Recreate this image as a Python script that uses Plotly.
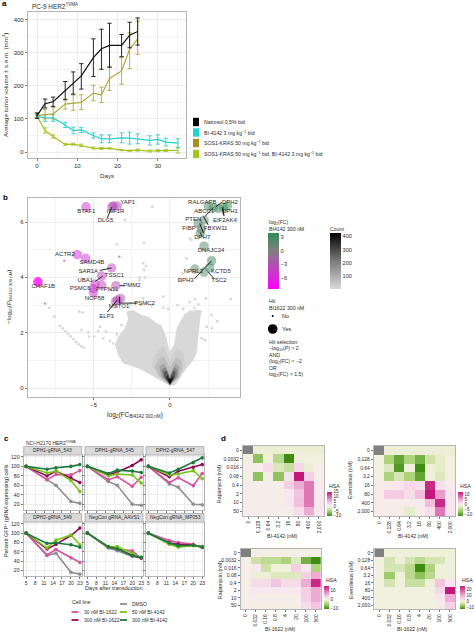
import plotly.graph_objects as go

W, H = 474, 632
FONT = "Liberation Sans"
INK = "#2b2b2b"
GRID = "#ececec"
FRAME = "#b4b4b4"

# ---------- panel a ----------
a_days_long = [0, 2, 4, 7, 9, 11, 14, 16, 18, 21, 23, 25, 28, 30, 32, 35]
a_days_short = [0, 2, 4, 7, 9, 11, 14, 16, 18, 21, 23, 25]
a_natrosol = [110, 146, 152, 185, 208, 230, 285, 312, 322, 322, 353, 364]
a_natrosol_up = [8, 14, 14, 28, 34, 37, 57, 59, 67, 33, 39, 41]
a_natrosol_dn = [8, 13, 14, 27, 33, 40, 57, 62, 66, 34, 38, 41]
a_sos1 = [110, 113, 115, 145, 148, 150, 178, 172, 222, 245, 310, 342]
a_sos1_up = [8, 15, 20, 15, 24, 23, 24, 24, 36, 40, 50, 53]
a_sos1_dn = [8, 13, 15, 15, 22, 22, 23, 22, 36, 40, 58, 47]
a_bi4142 = [108, 103, 103, 82, 65, 67, 50, 40, 40, 43, 42, 40, 35, 38, 30, 27]
a_bi4142_err = [5, 10, 10, 8, 10, 8, 8, 12, 12, 15, 18, 15, 14, 14, 12, 13]
a_combo = [108, 65, 47, 23, 24, 20, 12, 11, 11, 6, 4, 6, 3, 4, 5, 5]
a_combo_err = [4, 8, 5, 3, 3, 4, 3, 3, 2, 2, 2, 3, 3, 3, 3, 8]
a_legend = ["Natrosol 0.5% bid", "BI-4142 3 mg kg<sup>−1</sup> bid", "SOS1-KRAS 50 mg kg<sup>−1</sup> bid",
            "SOS1-KRAS 50 mg kg<sup>−1</sup> bid, BI-4142 3 mg kg<sup>−1</sup> bid"]
a_colors = ["#000000", "#22d3d3", "#a78f1e", "#a3c41c"]

# ---------- panel b ----------
hit_genes = ["BTAF1", "IGF1R", "YAP1", "DLG5", "ACTR2", "SAMD4B", "SAR1A", "TSSC1", "CHAF1B", "UBA1", "PMM2",
             "PTPN11", "PSMC6", "NOP58", "PSMC2", "MSTO1", "ELP3", "RALGAPB", "DPH2", "ABCC1", "DPH1", "EIF2AK4",
             "PTEN", "FIBP", "FBXW11", "DPH7", "DNAJC24", "KCTD5", "NPRL2", "TSC2", "DPH3"]
hit_fc = [-5.5, -3.7, -3.45, -3.8, -6.07, -5.52, -3.82, -4.48, -8.65, -4.9, -3.54,
          -4.48, -5.02, -5.02, -3.23, -3.56, -3.45, 2.51, 3.76, 2.84, 3.5, 3.17,
          2.23, 1.85, 2.05, 2.0, 2.23, 2.6, 1.64, 2.23, 2.73]
hit_p = [6.55, 6.58, 6.58, 6.55, 4.82, 4.69, 4.34, 4.05, 3.84, 3.76, 3.7,
         3.72, 3.6, 3.45, 3.24, 3.12, 3.18, 6.58, 6.58, 6.53, 6.53, 6.49,
         6.07, 5.95, 5.75, 5.6, 5.13, 4.35, 4.3, 4.19, 4.6]
label_x = [-5.48, -3.56, -2.77, -4.22, -6.88, -5.11, -5.35, -3.63, -8.30, -5.55, -2.49,
           -4.11, -5.88, -4.94, -1.66, -3.34, -4.15, 2.12, 3.93, 2.25, 3.93, 3.60,
           1.53, 1.25, 2.99, 2.12, 2.69, 3.34, 1.53, 3.21, 1.03]
label_y = [6.39, 6.39, 6.71, 6.06, 4.82, 4.54, 4.22, 4.06, 3.66, 3.90, 3.69,
           3.58, 3.60, 3.24, 3.06, 2.93, 2.60, 6.71, 6.71, 6.39, 6.39, 6.07,
           6.08, 5.76, 5.75, 5.43, 4.99, 4.22, 4.20, 3.90, 3.89]
conn_x = [-3.8, -4.1, None, -4.6, -3.82, None, -4.9, -4.4, None, -3.3, -3.0, None, -3.3, -2.2, None, -3.3, -3.3, None,
          -4.1, -3.45, None, 3.0, 3.4, None, 2.3, 2.84, None, 2.5, 2.2, None, 3.47, 3.5, None, 3.55, 3.45, None,
          2.0, 2.1, None, 1.6, 2.73, None, 2.5, 2.9, None, 1.95, 2.2]
conn_y = [6.55, 6.15, None, 4.25, 4.34, None, 3.85, 4.05, None, 3.7, 3.7, None, 3.07, 3.07, None, 3.07, 3.3, None,
          2.75, 3.18, None, 6.55, 6.72, None, 6.2, 6.53, None, 5.9, 6.2, None, 6.55, 6.25, None, 6.22, 6.5, None,
          5.62, 5.48, None, 3.95, 4.6, None, 4.2, 3.95, None, 5.95, 5.6]
small_fc = [-3.32, -6.92, -8.19, -3.9, -4.9]
small_p = [4.75, 4.60, 3.06, 3.55, 3.35]
lone_x = [-7.21, -7.03, -6.86, -6.68, -6.51, -6.33, -6.16, -5.99, -5.81, -5.64, -5.79, -5.35, -5.29, -4.98, -4.70,
          -4.37, -3.93, -3.71, -5.94, -5.72, -7.58, -7.91, -4.59, -4.19, -3.17, -3.49, -1.53, -1.20, -0.44, -0.11,
          0.87, 1.31, 2.40, 2.73, 3.10, 2.73, 2.08, 2.29, 1.64, 1.86, 2.36, 3.98, -0.44, -1.75, -1.75, -1.57, -1.70,
          -1.97, -2.01, -1.64, -1.70, -3.49, -1.16, -2.95, 1.09, 0.83, 0.66, 1.42, 1.31, -2.6, -2.2, -1.9, -1.5, -1.2,
          1.3, 1.6, 0.5]
lone_y = [2.25, 2.16, 2.06, 1.96, 1.87, 1.77, 1.67, 1.58, 1.51, 1.46, 2.10, 2.01, 1.86, 1.86, 2.06,
          1.80, 1.70, 1.61, 2.76, 2.73, 2.58, 2.90, 2.22, 2.04, 2.28, 1.94, 1.94, 1.92, 2.90, 2.86,
          2.86, 2.76, 2.22, 2.16, 2.42, 2.64, 1.80, 1.73, 3.22, 3.02, 3.24, 3.22, 3.30, 3.24, 4.51, 4.41, 4.27,
          4.00, 3.90, 4.00, 5.25, 5.19, 6.55, 6.07, 4.69, 4.14, 3.90, 5.35, 5.41, 3.05, 3.1, 3.0, 3.05, 2.95,
          3.1, 2.9, 3.0]
lone_count = [1] * len(lone_x)
dens_x = [
    [0, -.66, -1.31, -1.97, -2.62, -3.06, -3.39, -3.60, -3.39, -2.95, -2.73, -2.88, -2.40, -1.86, -1.42, -.87, -.55,
     -.22, -.04, .26, .44, .66, .98, 1.64, 2.08, 1.97, 1.86, 1.75, 1.53, 1.09, .66, .33],
    [0, -.76, -1.2, -.87, -.44, 0, .44, .87, .98, .66],
    [0, -.66, -.98, -.75, -.4, 0, .38, .72, .8, .58],
    [0, -.55, -.7, -.39, 0, .35, .61, .55],
    [0, -.45, -.55, -.3, 0, .28, .5, .45],
    [0, -.36, -.42, -.2, 0, .2, .36, .33],
    [0, -.26, -.17, 0, .17, .26],
    [-.13, 0, .13, 0]]
dens_y = [
    [.08, .29, .49, .69, .81, .89, 1.19, 1.55, 1.86, 2.16, 2.52, 2.76, 2.82, 2.64, 2.58, 2.34, 2.28,
     1.80, 1.31, 1.55, 2.16, 2.40, 2.70, 2.82, 2.82, 2.46, 1.92, 1.25, 1.01, .71, .35, .11],
    [.08, .41, .83, 1.31, 1.55, 1.01, 1.43, 1.31, .83, .41],
    [.09, .41, .75, 1.05, 1.15, .72, 1.1, 1.0, .72, .41],
    [.11, .41, .77, .89, .47, .89, .77, .41],
    [.12, .41, .65, .75, .4, .75, .65, .41],
    [.13, .39, .58, .62, .33, .62, .58, .39],
    [.16, .35, .47, .29, .47, .35],
    [.28, .13, .28, .35]]
dens_colors = ["#d8d8d8", "#cecece", "#bdbdbd", "#a5a5a5", "#858585", "#5a5a5a", "#2e2e2e", "#0a0a0a"]

# ---------- panel c ----------
c_days = [5, 12, 15, 20, 23]
c_titles = ["DPH1-gRNA_543", "DPH1-gRNA_545", "DPH2-gRNA_547", "DPH2-gRNA_549", "NegCon gRNA_AAVS1", "NegCon gRNA_MP053"]
c_names = ["DMSO", "30 nM BI-1622", "300 nM BI-1622", "50 nM BI-4142", "300 nM BI-4142"]
c_colors = ["#8f8f8f", "#d4559f", "#8e0a56", "#78c51a", "#1d7a3e"]
c_dmso = [[100, 72, 60, 26, 22], [100, 68, 60, 20, 18], [100, 63, 56, 20, 19], [100, 52, 57, 16, 12], [100, 68, 62, 50, 47], [100, 80, 75, 74, 70]]
c_bi1622_30 = [[100, 72, 83, 82, 91], [100, 72, 78, 58, 77], [100, 66, 76, 59, 85], [100, 53, 65, 47, 37], [100, 70, 66, 62, 46], [100, 84, 80, 76, 70]]
c_bi1622_300 = [[100, 80, 90, 76, 66], [100, 82, 88, 102, 114], [100, 78, 90, 98, 104], [100, 66, 76, 95, 111], [100, 70, 67, 52, 47], [100, 78, 76, 74, 71]]
c_bi4142_50 = [[100, 86, 90, 70, 47], [100, 80, 84, 82, 65], [100, 82, 84, 91, 74], [100, 68, 85, 96, 75], [100, 70, 71, 56, 48], [100, 76, 70, 73, 71]]
c_bi4142_300 = [[100, 94, 97, 100, 104], [100, 85, 92, 90, 87], [100, 86, 94, 108, 118], [100, 78, 79, 75, 70], [100, 71, 66, 52, 48], [100, 79, 73, 74, 70]]

# ---------- panel d ----------
d1_x = ["0", "0.128", "0.64", "3.2", "16", "80", "400", "2,000"]
d3_x = ["0", "0.032", "0.16", "0.8", "4", "20", "100", "500"]
rapa_y = ["0", "0.0032", "0.016", "0.08", "0.4", "2", "10", "50"]
ever_y = ["0", "0.128", "0.64", "3.2", "16", "80", "400", "2,000"]
d1_z = [[None, -1, -1, -1, -1, -1, -1, -1],
        [-.5, -6, -.5, -4, -10, -.5, -.5, -.5],
        [.5, .5, 2, -2, -3, 2.5, -1, .5],
        [0, -6, .5, -6, 1.5, 15, 3, .5],
        [.5, .5, .5, .5, 3, 6, 9, 1],
        [.5, .5, .5, .5, 1, 4, 9, 1],
        [.5, .5, .5, .5, 1, 4.5, 9, 1],
        [.5, .5, .5, .5, .5, 2, 6, 1]]
d2_z = [[None, -1, -1, -1, -1, -1, -1, -1],
        [0, -5, -9, -5, -8, -3, -1.5, -.5],
        [0, -2, -10, -.5, -11, -1, -1.5, -.5],
        [0, -5, -2.5, -5, -9, -.5, -2, -.5],
        [.5, .5, 1, 2, 1.5, 12, 1.5, .5],
        [.5, 3, 3, 1.5, 4, 14, 6, 1],
        [.5, .5, .5, .5, .5, 4, 12, 1],
        [.5, .5, .5, -1.5, .5, 1.5, 8, 1]]
d3_z = [[None, .2, .2, .2, .2, .2, .2, .2],
        [.2, -3, -4, -4, -5, -2, -8, -11],
        [.3, 1, -3, -.5, -.5, 3, 1, -5],
        [.3, -1, -1, -2, -2, -2, 3, 6],
        [.3, 2, 2, 4, 2, 2, 6, 14],
        [.3, 1, 1, 1, 1, 1, 3, 6],
        [.3, .5, .5, .5, .5, .5, 3, 6],
        [.3, .3, .3, .3, .3, .3, 2, 4]]
d4_z = [[None, -.8, -.8, -.8, -.8, -.8, -.8, -.8],
        [-.4, -3, -.8, -3, -5, -3, -3, -.8],
        [-.4, -3, -3, -5, -13, -6, -1, -.8],
        [-.4, -7, -1, -5, -8, -5, -.8, -.8],
        [-.4, -3, -.8, -4, -4, -.8, 7, 2],
        [-.4, -.4, -.4, -.4, -.4, -.4, 4, 26],
        [-.4, -.4, -.4, -.4, -.4, -.4, 2, 10],
        [-.4, -.4, -.4, -.4, -.4, -.4, 1, 5]]

fig = go.Figure()
layout = {}
annotations = []
shapes = []


def fx(p):
    return p / W


def fy(p):
    return 1 - p / H


def txt(x, y, s, size=6, anchor="left", color=INK, angle=0, bold=False):
    annotations.append(dict(x=fx(x), y=fy(y), xref="paper", yref="paper", text=f"<b>{s}</b>" if bold else s,
                            showarrow=False, xanchor=anchor, yanchor="middle", textangle=angle,
                            font=dict(size=size, color=color, family=FONT), align="left"))


def add_axes(n, box, xcfg, ycfg):
    s = "" if n == 1 else str(n)
    l, t, r, b = box
    base = dict(showline=True, linecolor=FRAME, linewidth=1.2, mirror=True, ticks="outside", ticklen=2,
                tickcolor="#777777", tickwidth=0.7, showgrid=True, gridcolor=GRID, gridwidth=0.7, zeroline=False,
                tickangle=0, tickfont=dict(size=6, color=INK, family=FONT))
    layout["xaxis" + s] = {**base, "domain": [fx(l), fx(r)], "anchor": "y" + s, **xcfg}
    layout["yaxis" + s] = {**base, "domain": [fy(b), fy(t)], "anchor": "x" + s, **ycfg}
    return "x" + s, "y" + s


def minor(d):
    return dict(dtick=d, showgrid=True, gridcolor="#f3f3f3", gridwidth=0.5, ticklen=0)


# ----- panel a -----
xa, ya = add_axes(1, (28, 12, 186, 158),
                  dict(range=[-2.24, 37], tickvals=[0, 10, 20, 30], minor=minor(5)),
                  dict(range=[-18, 423], tickvals=[0, 100, 200, 300, 400], minor=minor(50)))
a_series = [(a_days_long, a_combo, a_combo_err, a_combo_err, a_colors[3], a_legend[3]),
            (a_days_long, a_bi4142, a_bi4142_err, a_bi4142_err, a_colors[1], a_legend[1]),
            (a_days_short, a_sos1, a_sos1_up, a_sos1_dn, "#b3a63a", a_legend[2]),
            (a_days_short, a_natrosol, a_natrosol_up, a_natrosol_dn, "#111111", a_legend[0])]
for dx, vy, up, dn, col, nm in a_series:
    fig.add_trace(go.Scatter(x=dx, y=vy, mode="lines", xaxis=xa, yaxis=ya, name=nm, showlegend=False,
                             line=dict(color=col, width=1.2),
                             error_y=dict(type="data", symmetric=False, array=up, arrayminus=dn, color=col,
                                          thickness=0.9, width=2.2)))
txt(30, 6, "PC-9 HER2<sup>YVMA</sup>", 6.4)
txt(5, 85, "Average tumor volume ± s.e.m. (mm<sup>3</sup>)", 6.2, "center", angle=-90)
txt(107, 176, "Days", 6.2, "center")
for nm, col, cy in zip(a_legend, a_colors, [122, 132.5, 143, 154]):
    shapes.append(dict(type="rect", xref="paper", yref="paper", x0=fx(193), x1=fx(199), y0=fy(cy - 4.2), y1=fy(cy + 4.2),
                       fillcolor=col, line=dict(width=0)))
    txt(202, cy, nm, 5.2)
txt(0, 3, "a", 8, bold=True, color="#000000")

# ----- panel b -----
xb, yb = add_axes(2, (28, 198, 240, 397),
                  dict(range=[-9.3, 4.59], tickvals=[-5, 0], minor=minor(2.5)),
                  dict(range=[-0.325, 6.87], tickvals=[0, 2, 4, 6], minor=minor(1)))
for dxs, dys, col in zip(dens_x, dens_y, dens_colors):
    fig.add_trace(go.Scatter(x=dxs, y=dys, mode="lines", fill="toself", fillcolor=col, line=dict(width=0),
                             xaxis=xb, yaxis=yb, showlegend=False, hoverinfo="skip"))
fig.add_trace(go.Scatter(x=lone_x, y=lone_y, mode="markers", xaxis=xb, yaxis=yb, showlegend=False, name="Count",
                         marker=dict(symbol="hexagon", size=3.2, color=lone_count, cmin=1, cmax=420,
                                     colorscale=[[0, "#dadada"], [0.5, "#7a7a7a"], [1, "#000000"]],
                                     colorbar=dict(x=fx(330), xanchor="left", y=fy(261.5), yanchor="middle",
                                                   lenmode="pixels", len=55.6, thickness=11.3, xpad=0, ypad=0,
                                                   outlinewidth=0, tickvals=[100, 200, 300, 400],
                                                   tickfont=dict(size=5.6, color=INK, family=FONT)))))
fc_scale = [[0, "#ff00ff"], [0.69, "#808080"], [1, "#2e8b57"]]
hit_alpha = [0.75 if g == "CHAF1B" else 0.5 for g in hit_genes]
fig.add_trace(go.Scatter(x=hit_fc, y=hit_p, mode="markers", xaxis=xb, yaxis=yb, showlegend=False, text=hit_genes,
                         marker=dict(size=9.5, color=hit_fc, cmin=-8.6, cmax=3.9, colorscale=fc_scale, opacity=hit_alpha,
                                     line=dict(width=0),
                                     colorbar=dict(x=fx(268), xanchor="left", y=fy(261.5), yanchor="middle",
                                                   lenmode="pixels", len=55.6, thickness=11.3, xpad=0, ypad=0,
                                                   outlinewidth=0, tickvals=[-6, -3, 0, 3],
                                                   tickfont=dict(size=5.6, color=INK, family=FONT)))))
fig.add_trace(go.Scatter(x=small_fc, y=small_p, mode="markers", xaxis=xb, yaxis=yb, showlegend=False,
                         marker=dict(size=2.5, color="#d890d8")))
fig.add_trace(go.Scatter(x=conn_x, y=conn_y, mode="lines", xaxis=xb, yaxis=yb, showlegend=False,
                         line=dict(color="#111111", width=0.9), hoverinfo="skip"))
fig.add_trace(go.Scatter(x=label_x, y=label_y, mode="text", text=hit_genes, textposition="middle center",
                         xaxis=xb, yaxis=yb, showlegend=False, textfont=dict(size=6, color=INK, family=FONT)))
txt(9, 297, "−log<sub>10</sub>(<i>P</i><sub>BI4142 300 nM</sub>)", 6.2, "center", angle=-90)
txt(135, 415.5, "log<sub>2</sub>(FC<sub>BI4142 300 nM</sub>)", 6.6, "center")
txt(1, 197, "b", 8, bold=True, color="#000000")
txt(267, 222.3, "log<sub>2</sub>(FC)", 5.2)
txt(267, 229, "BI4142 300 nM", 5.2)
txt(328, 229, "Count", 5.2)
txt(267, 301, "Hit", 5.2)
txt(267, 307.6, "BI1622 300 nM", 5.2)
for cy, rad, lab in [(316, 1, "No"), (329, 4.8, "Yes")]:
    shapes.append(dict(type="circle", xref="paper", yref="paper", x0=fx(272.7 - rad), x1=fx(272.7 + rad),
                       y0=fy(cy + rad), y1=fy(cy - rad), fillcolor="#000000", line=dict(width=0)))
    txt(280, cy, lab, 5.6)
for cy, line in zip([341.7, 348, 355, 361.5, 368, 374.5],
                    ["Hit selection:", "−log<sub>10</sub>(<i>P</i>) &gt; 2", "AND", "(log<sub>2</sub>(FC) &lt; −2", "OR",
                     "log<sub>2</sub>(FC) &gt; 1.5)"]):
    txt(267, cy, line, 5.2)

# ----- panel c -----
c_boxes = [(23.7, 455, 81.7, 510), (85, 455, 143, 510), (146, 455, 204, 510),
           (23.7, 522, 81.7, 576), (85, 522, 143, 576), (146, 522, 204, 576)]
c_all = [c_dmso, c_bi1622_30, c_bi1622_300, c_bi4142_50, c_bi4142_300]
for i, box in enumerate(c_boxes):
    xs, ys = add_axes(3 + i, box,
                      dict(range=[4.2, 23.6], tickvals=[5, 8, 11, 14, 17, 20, 23], showticklabels=i >= 3,
                           tickfont=dict(size=5, color=INK, family=FONT)),
                      dict(range=[8, 124], tickvals=[20, 40, 60, 80, 100, 120], showticklabels=i % 3 == 0,
                           tickfont=dict(size=5.2, color=INK, family=FONT)))
    for series, col in zip(c_all, c_colors):
        fig.add_trace(go.Scatter(x=c_days, y=series[i], mode="lines+markers", xaxis=xs, yaxis=ys, showlegend=False,
                                 line=dict(color=col, width=1.6), marker=dict(size=3.6, color=col)))
    l, t, r, b = box
    shapes.append(dict(type="rect", xref="paper", yref="paper", x0=fx(l), x1=fx(r), y0=fy(t - 8.5), y1=fy(t),
                       fillcolor="#d9d9d9", line=dict(color="#a8a8a8", width=0.8)))
    txt((l + r) / 2, t - 4.2, c_titles[i], 4.9, "center")
txt(24, 442.7, "NCI-H2170 HER2<sup>YVMA</sup>", 5)
txt(6, 511, "Percent GFP<sup>+</sup> (gRNA expressing) cells", 5.4, "center", angle=-90)
txt(114, 588, "Days after transduction", 5.6, "center")
txt(2, 438, "c", 8, bold=True, color="#000000")
txt(70, 602, "Cell line", 5.2)
for idx, kx0, cy in [(1, 71.5, 612), (2, 71.5, 620), (0, 120, 604), (3, 120, 612), (4, 120, 620)]:
    shapes.append(dict(type="line", xref="paper", yref="paper", x0=fx(kx0), x1=fx(kx0 + 7), y0=fy(cy), y1=fy(cy),
                       line=dict(color=c_colors[idx], width=1.8)))
    txt(kx0 + 10, cy, c_names[idx], 5)

# ----- panel d -----
hsa_scale_stops = [(-1, "#3f8c12"), (-.5, "#a6d072"), (-.08, "#eef0d8"), (0, "#f4f0e2"), (.06, "#f8e8ee"), (.35, "#f1b6da"), (1, "#c2187c")]


def hsa_scale(lo, hi):
    out = []
    for v, c in hsa_scale_stops:
        val = v * (-lo) if v < 0 else v * hi
        out.append([(val - lo) / (hi - lo), c])
    return out


d_panels = [
    (d1_z, d1_x, rapa_y, (243, 445.7, 324, 515.7), -10, 15, [-10, -5, 0, 5, 10, 15], 326.7, 492, 515.7, "BI-4142 (nM)", 282, 536, "Rapamycin (nM)", 219, 484),
    (d2_z, d1_x, ever_y, (374, 446, 455, 516), -11, 13, [-10, -5, 0, 5, 10], 458, 492, 515.7, "BI-4142 (nM)", 413.7, 536, "Everolimus (nM)", 350, 480),
    (d3_z, d3_x, rapa_y, (240.7, 549, 321, 609), -11, 15, [-10, 0, 10], 324, 586, 609, "BI-1622 (nM)", 280.7, 629, "Rapamycin (nM)", 220, 580),
    (d4_z, d3_x, ever_y, (374.3, 549, 455, 609), -13, 26, [-10, 0, 10, 20], 460, 586, 609, "BI-1622 (nM)", 412, 629, "Everolimus (nM)", 351, 580),
]
for k, (z, xl, yl, box, lo, hi, ticks, cbx, cbt, cbb, xt, xtx, xty, yt, ytx, yty) in enumerate(d_panels):
    xs, ys = add_axes(9 + k, box,
                      dict(type="category", categoryorder="array", categoryarray=xl, tickangle=-90, showgrid=False,
                           tickfont=dict(size=5, color=INK, family=FONT)),
                      dict(type="category", categoryorder="array", categoryarray=yl, autorange="reversed", showgrid=False,
                           tickfont=dict(size=5, color=INK, family=FONT)))
    fig.add_trace(go.Heatmap(z=z, x=xl, y=yl, xaxis=xs, yaxis=ys, zmin=lo, zmax=hi, colorscale=hsa_scale(lo, hi), xgap=0, ygap=0,
                             hoverongaps=False,
                             colorbar=dict(x=fx(cbx), xanchor="left", y=fy((cbt + cbb) / 2), yanchor="middle",
                                           lenmode="pixels", len=cbb - cbt, thickness=5.4, xpad=0, ypad=0, outlinewidth=0,
                                           tickvals=ticks, ticklen=0,
                                           tickfont=dict(size=4.6, color=INK, family=FONT))))
    fig.add_trace(go.Heatmap(z=[[1]], x=[xl[0]], y=[yl[0]], xaxis=xs, yaxis=ys, showscale=False,
                             colorscale=[[0, "#808080"], [1, "#808080"]]))
    txt(xtx, xty, xt, 5.2, "center")
    txt(ytx, yty, yt, 5.2, "center", angle=-90)
    txt(cbx, cbt - 6, "HSA", 5.2)
txt(219, 438, "d", 8, bold=True, color="#000000")

fig.update_layout(width=W, height=H, margin=dict(l=0, r=0, t=0, b=0), paper_bgcolor="white", plot_bgcolor="white",
                  showlegend=False, annotations=annotations, shapes=shapes,
                  font=dict(family=FONT, size=6, color=INK), **layout)
fig.write_html("out.html", config={"displayModeBar": False}, post_script="document.body.style.margin='0';")
